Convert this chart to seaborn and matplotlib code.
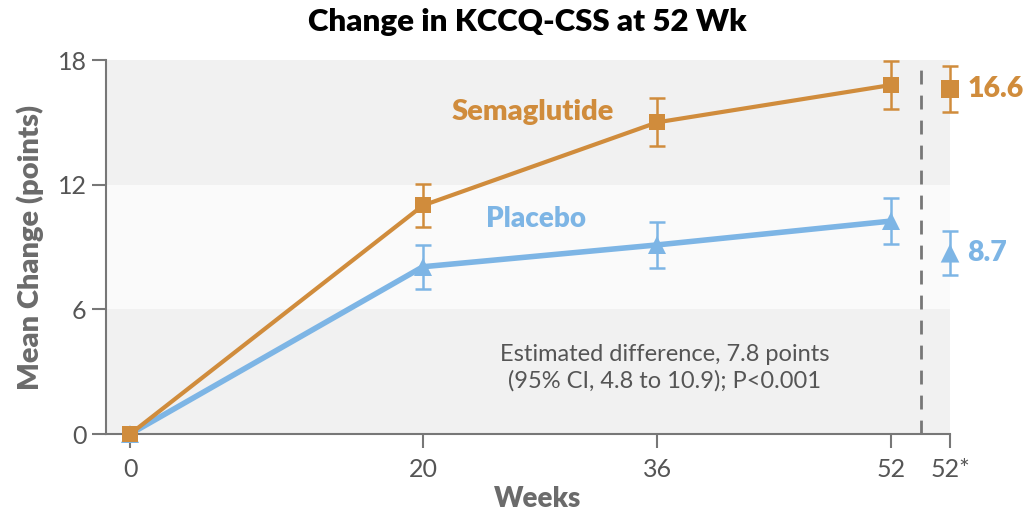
import matplotlib
matplotlib.use("Agg")
import matplotlib.pyplot as plt
import seaborn as sns
import pandas as pd
import numpy as np

weeks = [0, 20, 36, 52]
sema_mean = [0.0, 11.0, 15.0, 16.8]
sema_err = [0.0, 1.05, 1.15, 1.15]
plac_mean = [0.0, 8.05, 9.1, 10.25]
plac_err = [0.0, 1.05, 1.12, 1.1]
final_x = 56
sema_final, sema_final_err = 16.6, 1.1
plac_final, plac_final_err = 8.7, 1.06
xtick_pos = [0, 20, 36, 52, 56]
xtick_labels = ["0", "20", "36", "52", "52*"]
ytick_pos = [0, 6, 12, 18]

ORANGE = "#D08C3C"
BLUE = "#7DB5E5"
GRAY = "#6b6b6b"

sns.set_theme(style="white")
plt.rcParams['font.family'] = ['Lato', 'DejaVu Sans']

XL, XR = -1.65, 57.5
fig = plt.figure(figsize=(10.25, 5.17), dpi=100)
ax = fig.add_axes([106/1025, 1-434/517, (972-106)/1025, (434-60)/517])

ax.set_xlim(XL, XR)
ax.set_ylim(0, 18)

for lo, hi, c in [(0, 6, "#f1f1f1"), (6, 12, "#fafafa"), (12, 18, "#f1f1f1")]:
    ax.fill_between([XL, final_x], lo, hi, color=c, zorder=0, lw=0)

df = pd.DataFrame({
    "week": weeks * 2,
    "mean": sema_mean + plac_mean,
    "group": ["Semaglutide"] * 4 + ["Placebo"] * 4,
})
sns.lineplot(data=df[df.group == "Placebo"], x="week", y="mean", color=BLUE, lw=4.0,
             marker="^", markersize=13, markeredgewidth=0, ax=ax, zorder=3, clip_on=False)
sns.lineplot(data=df[df.group == "Semaglutide"], x="week", y="mean", color=ORANGE, lw=3.0,
             marker="s", markersize=12, markeredgewidth=0, ax=ax, zorder=4, clip_on=False)

eb_kw = dict(elinewidth=1.8, capsize=5.5, capthick=1.8, fmt="none")
ax.errorbar(weeks[1:], plac_mean[1:], yerr=plac_err[1:], ecolor=BLUE, zorder=3, **eb_kw)
ax.errorbar(weeks[1:], sema_mean[1:], yerr=sema_err[1:], ecolor=ORANGE, zorder=4, **eb_kw)
ax.errorbar([final_x], [sema_final], yerr=[sema_final_err], ecolor=ORANGE, zorder=5, **eb_kw)
ax.errorbar([final_x], [plac_final], yerr=[plac_final_err], ecolor=BLUE, zorder=5, **eb_kw)

final_df = pd.DataFrame({"x": [final_x, final_x], "y": [sema_final, plac_final],
                         "g": ["Semaglutide", "Placebo"]})
sns.scatterplot(data=final_df, x="x", y="y", hue="g", style="g",
                palette={"Semaglutide": ORANGE, "Placebo": BLUE},
                markers={"Semaglutide": "s", "Placebo": "^"},
                s=180, linewidth=0, legend=False, ax=ax, zorder=6, clip_on=False)

ax.axvline(54, color="#777777", lw=2, ls=(0, (5, 4)), zorder=2)

ax.text(57.2, sema_final, f"{sema_final}", color=ORANGE, fontsize=20.5, fontweight="heavy",
        va="center", ha="left", clip_on=False)
ax.text(57.2, plac_final, f"{plac_final}", color=BLUE, fontsize=20.5, fontweight="heavy",
        va="center", ha="left", clip_on=False)
ax.text(27.5, 15.5, "Semaglutide", color=ORANGE, fontsize=21, fontweight="heavy", ha="center", va="center")
ax.text(27.7, 10.35, "Placebo", color=BLUE, fontsize=20, fontweight="heavy", ha="center", va="center")
ax.text(36.5, 3.2, "Estimated difference, 7.8 points\n(95% CI, 4.8 to 10.9); P<0.001",
        color="#555555", fontsize=17, ha="center", va="center", linespacing=1.3)

for s in ["top", "right"]:
    ax.spines[s].set_visible(False)
for s in ["left", "bottom"]:
    ax.spines[s].set_color("#777777")
    ax.spines[s].set_linewidth(1.5)
ax.spines["bottom"].set_bounds(XL, final_x)

ax.set_xticks(xtick_pos)
ax.set_xticklabels(xtick_labels)
ax.set_yticks(ytick_pos)
ax.tick_params(axis="both", which="both", direction="out", length=10, width=1.5, color="#777777",
               labelcolor="#555555", labelsize=18, bottom=True, left=True)
ax.tick_params(axis="x", pad=7)
ax.tick_params(axis="y", pad=4)
ax.grid(False)

ax.set_xlabel("Weeks", fontsize=20, fontweight="heavy", color=GRAY)
ax.xaxis.set_label_coords((538 - 106) / (972 - 106), -0.14)
ax.set_ylabel("Mean Change (points)", fontsize=21, fontweight="heavy", color=GRAY, labelpad=10)

fig.text(527/1025, 1-22/517, "Change in KCCQ-CSS at 52 Wk", fontsize=22.5, fontweight="heavy",
         color="black", ha="center", va="center")

fig.savefig("out.png", dpi=100, facecolor="white")
